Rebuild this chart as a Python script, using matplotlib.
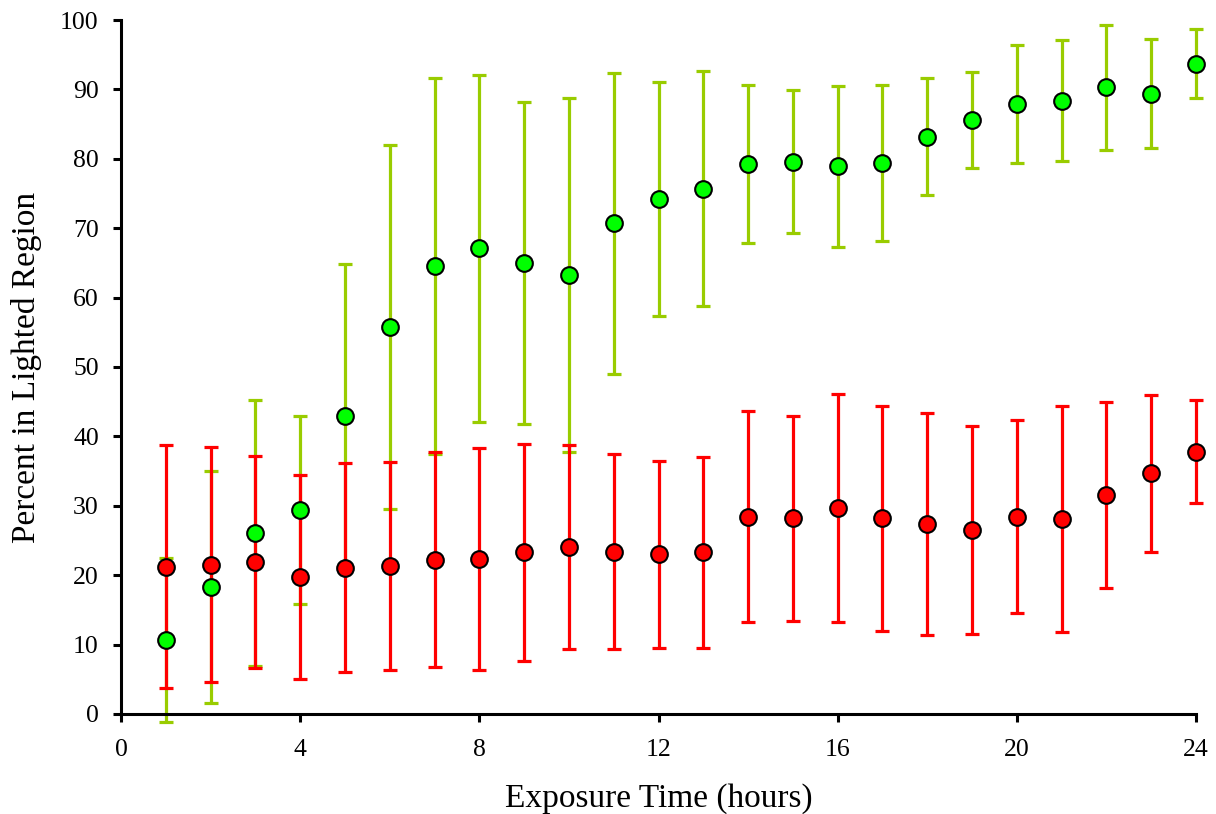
import matplotlib
matplotlib.use("Agg")
import matplotlib.pyplot as plt

hours = list(range(1, 25))
lit_mean = [10.7, 18.3, 26.1, 29.4, 43.0, 55.8, 64.5, 67.1, 65.0, 63.2, 70.7, 74.2,
            75.7, 79.3, 79.6, 78.9, 79.4, 83.2, 85.6, 87.9, 88.4, 90.3, 89.4, 93.7]
lit_err = [11.8, 16.7, 19.2, 13.6, 21.9, 26.2, 27.1, 25.0, 23.2, 25.5, 21.7, 16.9,
           16.9, 11.4, 10.3, 11.6, 11.3, 8.4, 6.9, 8.5, 8.7, 9.0, 7.9, 5.0]
ctrl_mean = [21.2, 21.5, 21.9, 19.8, 21.1, 21.3, 22.2, 22.3, 23.3, 24.0, 23.4, 23.0,
             23.3, 28.4, 28.2, 29.7, 28.2, 27.4, 26.5, 28.4, 28.1, 31.6, 34.7, 37.8]
ctrl_err = [17.5, 16.9, 15.3, 14.7, 15.0, 15.0, 15.5, 16.0, 15.6, 14.7, 14.0, 13.5,
            13.8, 15.2, 14.8, 16.4, 16.2, 16.0, 15.0, 13.9, 16.3, 13.4, 11.3, 7.4]
x_ticks = [0, 4, 8, 12, 16, 20, 24]
y_ticks = list(range(0, 101, 10))

plt.rcParams['font.family'] = ['Liberation Serif', 'DejaVu Serif']

fig = plt.figure(figsize=(12.16, 8.14), dpi=100)
ax = fig.add_axes([0.0995, 0.1229, 0.8841, 0.8525])

eb_kw = dict(fmt='none', elinewidth=2.3, capsize=5, capthick=2.3, clip_on=False)
e1 = ax.errorbar(hours, lit_mean, yerr=lit_err, ecolor='#99CC00', zorder=2, **eb_kw)
e2 = ax.errorbar(hours, ctrl_mean, yerr=ctrl_err, ecolor='#FF0000', zorder=3, **eb_kw)
for art in list(e1.lines[1]) + list(e1.lines[2]) + list(e2.lines[1]) + list(e2.lines[2]):
    art.set_clip_on(False)

ax.plot(hours, lit_mean, 'o', color='#00FF00', markeredgecolor='black',
        markeredgewidth=1.5, markersize=12, zorder=4, clip_on=False)
ax.plot(hours, ctrl_mean, 'o', color='#FF0000', markeredgecolor='black',
        markeredgewidth=1.5, markersize=12, zorder=5, clip_on=False)

ax.set_xlim(0, 24)
ax.set_ylim(0, 100)
ax.set_xticks(x_ticks)
ax.set_yticks(y_ticks)
ax.spines['top'].set_visible(False)
ax.spines['right'].set_visible(False)
for s in ('left', 'bottom'):
    ax.spines[s].set_linewidth(2.2)
ax.tick_params(axis='both', direction='out', length=6, width=2.2, labelsize=18.5)
ax.tick_params(axis='x', pad=12)
ax.tick_params(axis='y', pad=10)
ax.set_xlabel('Exposure Time (hours)', fontsize=24, labelpad=16)
ax.set_ylabel('Percent in Lighted Region', fontsize=24, labelpad=13)

fig.savefig('out.png', dpi=100)
